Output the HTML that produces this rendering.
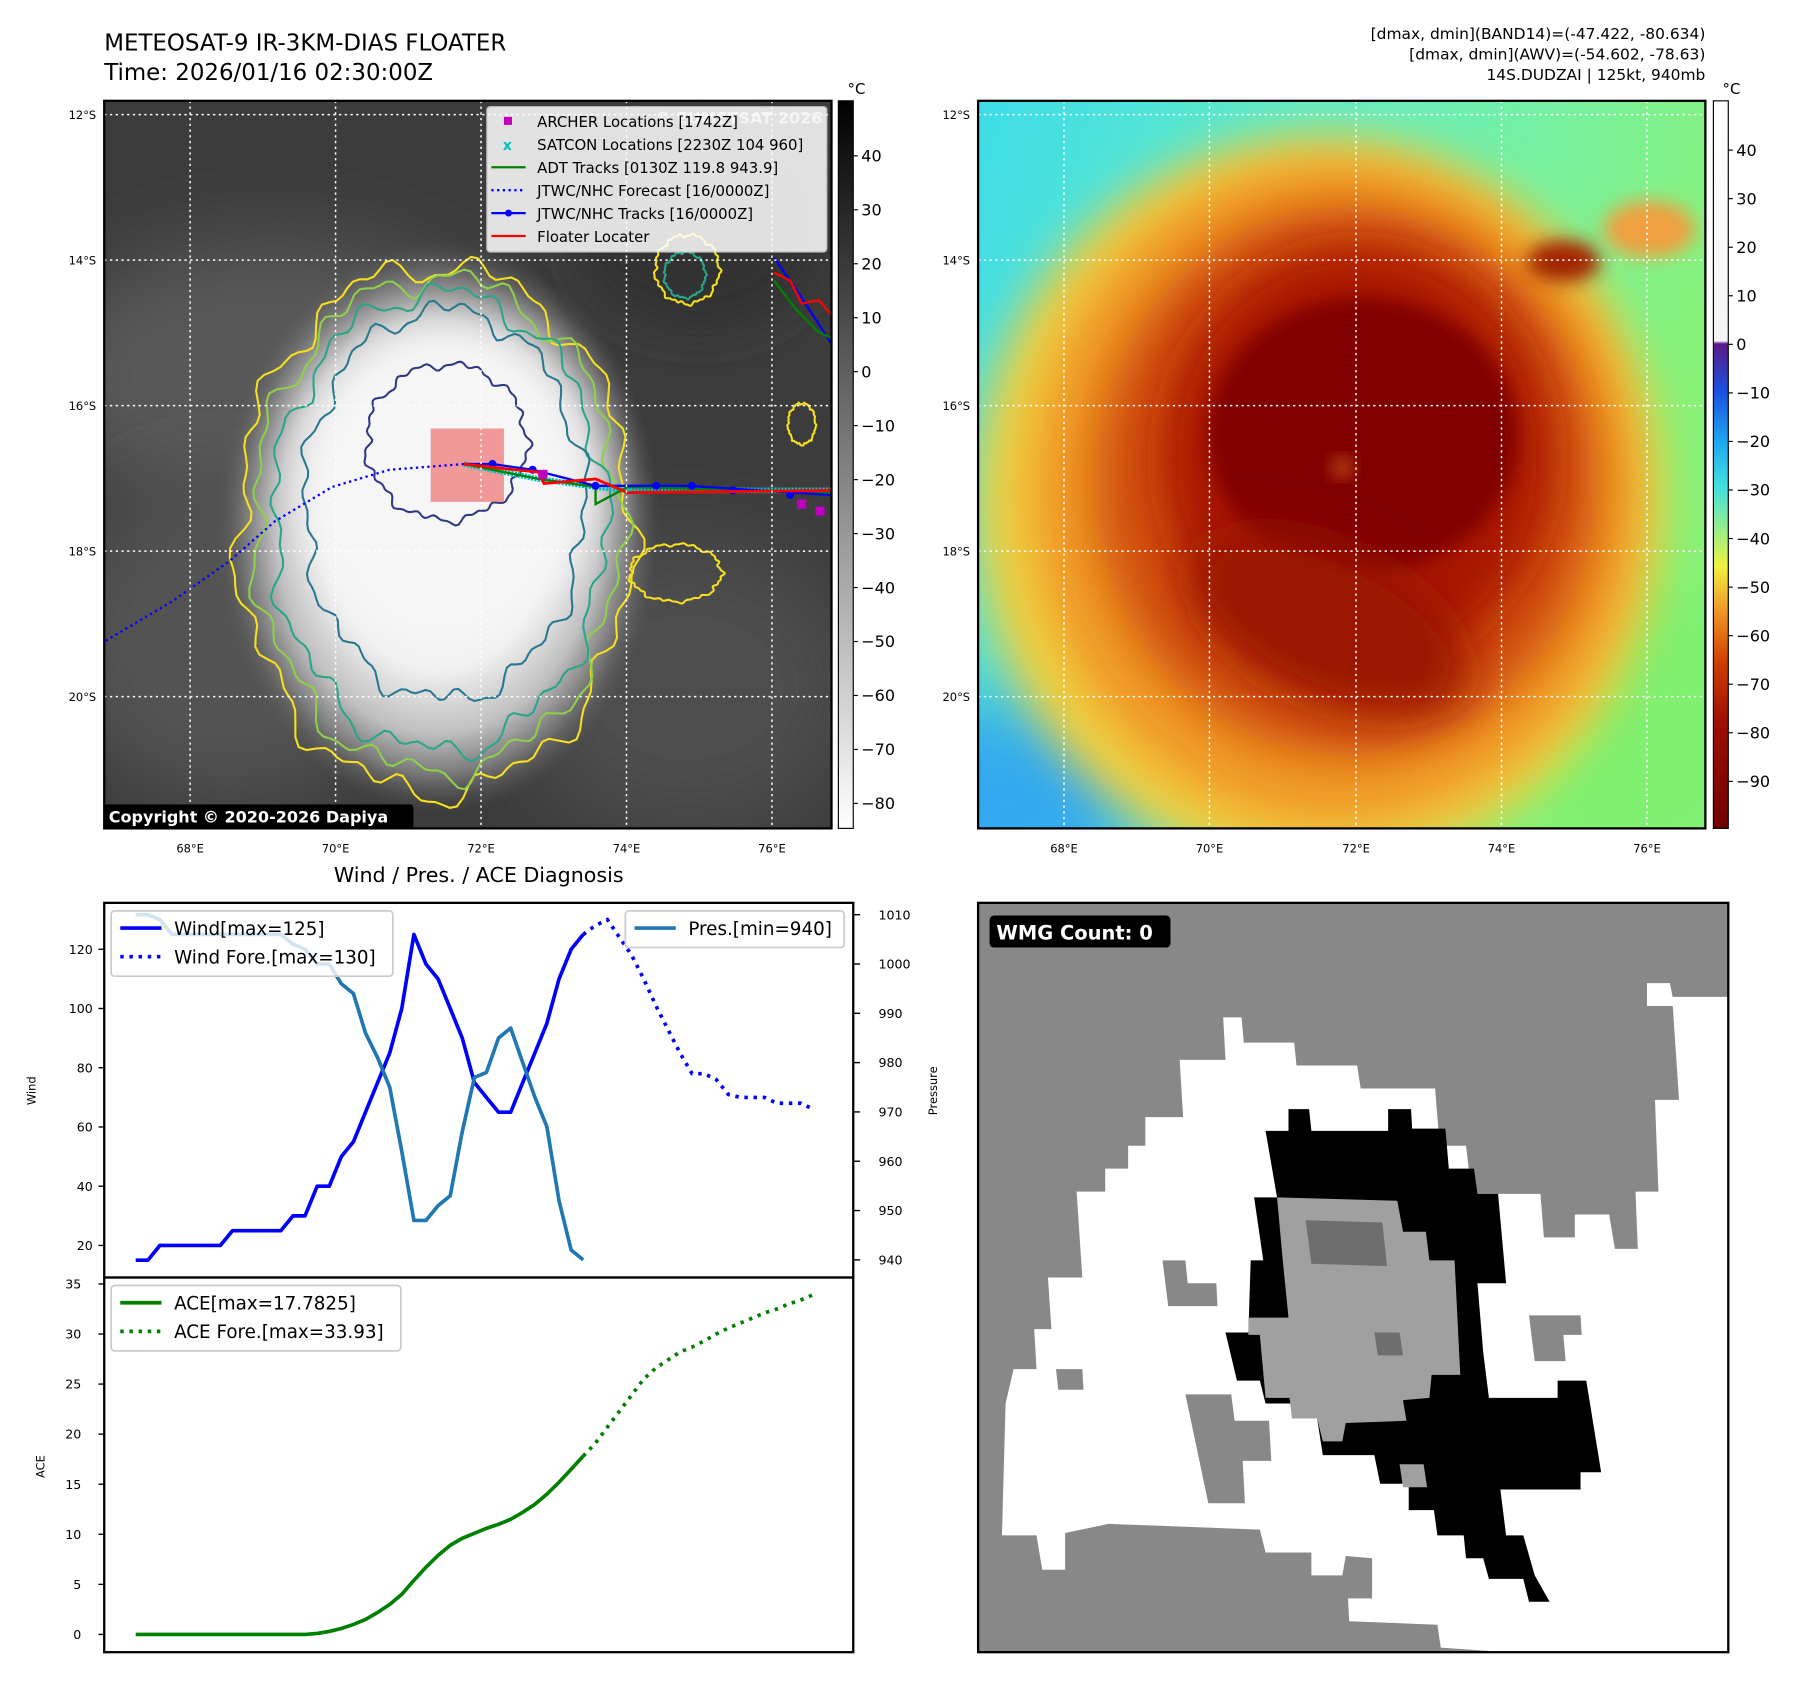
<!DOCTYPE html>
<html><head><meta charset="utf-8">
<style>
html,body{margin:0;padding:0;background:#fff;}
svg{display:block;font-family:"DejaVu Sans","Liberation Sans",sans-serif;}
</style></head>
<body>
<svg id="root" width="1797" height="1690" viewBox="0 0 1569 1475" preserveAspectRatio="none" xmlns="http://www.w3.org/2000/svg">
<defs>
  <filter id="blur8" x="-50%" y="-50%" width="200%" height="200%"><feGaussianBlur stdDeviation="8"/></filter>
  <filter id="blur20" x="-50%" y="-50%" width="200%" height="200%"><feGaussianBlur stdDeviation="20"/></filter>
  <filter id="blur35" x="-50%" y="-50%" width="200%" height="200%"><feGaussianBlur stdDeviation="35"/></filter>
  <clipPath id="clipL"><rect x="91" y="88" width="635" height="635"/></clipPath>
  <clipPath id="clipR"><rect x="854" y="88" width="635" height="635"/></clipPath>
  <clipPath id="clipW"><rect x="854" y="788" width="655" height="654"/></clipPath>
  <radialGradient id="stormL" cx="0.5" cy="0.5" r="0.5">
    <stop offset="0" stop-color="#ffffff"/>
    <stop offset="0.5" stop-color="#f0f0f0"/>
    <stop offset="0.72" stop-color="#c0c0c0"/>
    <stop offset="0.86" stop-color="#7a7a7a"/>
    <stop offset="1" stop-color="#555" stop-opacity="0"/>
  </radialGradient>
  <linearGradient id="bgR" x1="0" y1="0" x2="1" y2="0.3">
    <stop offset="0" stop-color="#3fdce8"/>
    <stop offset="0.5" stop-color="#66eec0"/>
    <stop offset="1" stop-color="#88f27a"/>
  </linearGradient>
  <linearGradient id="cbL" x1="0" y1="0" x2="0" y2="1">
    <stop offset="0" stop-color="#000"/>
    <stop offset="1" stop-color="#fff"/>
  </linearGradient>
  <linearGradient id="cbR" x1="0" y1="0" x2="0" y2="1">
    <stop offset="0" stop-color="#ffffff"/>
    <stop offset="0.33" stop-color="#f4f4f4"/>
    <stop offset="0.334" stop-color="#5a1a8a"/>
    <stop offset="0.40" stop-color="#1a50e0"/>
    <stop offset="0.47" stop-color="#20a8f0"/>
    <stop offset="0.53" stop-color="#40e0e0"/>
    <stop offset="0.60" stop-color="#a8f07a"/>
    <stop offset="0.64" stop-color="#f0f040"/>
    <stop offset="0.70" stop-color="#f09828"/>
    <stop offset="0.77" stop-color="#d04000"/>
    <stop offset="0.85" stop-color="#a01000"/>
    <stop offset="1" stop-color="#700000"/>
  </linearGradient>
</defs>

<!-- Titles -->
<text x="91" y="44" font-size="20">METEOSAT-9 IR-3KM-DIAS FLOATER</text>
<text x="91" y="70" font-size="20">Time: 2026/01/16 02:30:00Z</text>
<g font-size="13.5" text-anchor="end">
  <text x="1489" y="34">[dmax, dmin](BAND14)=(-47.422, -80.634)</text>
  <text x="1489" y="52">[dmax, dmin](AWV)=(-54.602, -78.63)</text>
  <text x="1489" y="70">14S.DUDZAI | 125kt, 940mb</text>
</g>

<!-- LEFT MAP -->
<g id="leftMap" clip-path="url(#clipL)">
  <rect x="91" y="88" width="635" height="635" fill="#3c3c3c"/>
  <ellipse cx="240" cy="330" rx="200" ry="120" fill="#585858" filter="url(#blur35)"/>
  <ellipse cx="200" cy="560" rx="150" ry="140" fill="#525252" filter="url(#blur35)"/>
  <ellipse cx="600" cy="600" rx="150" ry="130" fill="#4e4e4e" filter="url(#blur35)"/>
  <ellipse cx="610" cy="200" rx="110" ry="90" fill="#303030" filter="url(#blur20)"/>
  <ellipse cx="382" cy="460" rx="195" ry="250" fill="url(#stormL)"/>
  <ellipse cx="390" cy="420" rx="130" ry="140" fill="#f6f6f6" filter="url(#blur20)"/>
  <g id="contours" fill="none" stroke-width="1.8"></g>
  <rect x="376" y="374" width="64" height="64" fill="#f07070" opacity="0.7"/>
  <g id="tracks"></g>
  <g stroke="#fff" stroke-width="1.3" stroke-dasharray="2,3" fill="none">
    <line x1="166" y1="88" x2="166" y2="723"/><line x1="293" y1="88" x2="293" y2="723"/>
    <line x1="420" y1="88" x2="420" y2="723"/><line x1="547" y1="88" x2="547" y2="723"/>
    <line x1="674" y1="88" x2="674" y2="723"/>
    <line x1="91" y1="100" x2="726" y2="100"/><line x1="91" y1="227" x2="726" y2="227"/>
    <line x1="91" y1="354" x2="726" y2="354"/><line x1="91" y1="481" x2="726" y2="481"/>
    <line x1="91" y1="608" x2="726" y2="608"/>
  </g>
  <text x="718" y="108" font-size="14" font-weight="bold" fill="#ddd" text-anchor="end" opacity="0.8">© EUMETSAT 2026</text>
</g>
<rect x="91" y="88" width="635" height="635" fill="none" stroke="#000" stroke-width="2"/>
<!-- legend -->
<g font-size="13">
  <rect x="425" y="93" width="297" height="127" rx="3" fill="#fff" opacity="0.85" stroke="#ccc"/>
  <rect x="440" y="102" width="7" height="7" fill="#c000c0"/>
  <text x="469" y="111">ARCHER Locations [1742Z]</text>
  <text x="443" y="131" fill="#00c0c0" font-size="12" font-weight="bold" text-anchor="middle">x</text>
  <text x="469" y="131">SATCON Locations [2230Z 104 960]</text>
  <line x1="429" y1="146" x2="459" y2="146" stroke="#008000" stroke-width="2"/>
  <text x="469" y="151">ADT Tracks [0130Z 119.8 943.9]</text>
  <line x1="429" y1="166" x2="459" y2="166" stroke="#0000ff" stroke-width="2" stroke-dasharray="2,3"/>
  <text x="469" y="171">JTWC/NHC Forecast [16/0000Z]</text>
  <line x1="429" y1="186" x2="459" y2="186" stroke="#0000ff" stroke-width="2"/><circle cx="444" cy="186" r="3" fill="#00f"/>
  <text x="469" y="191">JTWC/NHC Tracks [16/0000Z]</text>
  <line x1="429" y1="206" x2="459" y2="206" stroke="#ff0000" stroke-width="2"/>
  <text x="469" y="211">Floater Locater</text>
</g>
<rect x="91" y="702" width="270" height="21" rx="3" fill="#000"/>
<text x="95" y="718" font-size="14" font-weight="bold" fill="#fff">Copyright © 2020-2026 Dapiya</text>

<g font-size="10" text-anchor="end">
  <text x="84" y="104">12°S</text><text x="84" y="231">14°S</text><text x="84" y="358">16°S</text>
  <text x="84" y="485">18°S</text><text x="84" y="612">20°S</text>
</g>
<g font-size="10" text-anchor="middle">
  <text x="166" y="744">68°E</text><text x="293" y="744">70°E</text><text x="420" y="744">72°E</text>
  <text x="547" y="744">74°E</text><text x="674" y="744">76°E</text>
</g>
<rect x="732" y="88" width="13" height="635" fill="url(#cbL)" stroke="#000" stroke-width="1"/>
<text x="740" y="82" font-size="13">°C</text>
<g id="cbLticks" font-size="14"></g>

<!-- RIGHT MAP -->
<g clip-path="url(#clipR)">
  <rect x="854" y="88" width="635" height="635" fill="url(#bgR)"/>
  <ellipse cx="880" cy="700" rx="120" ry="90" fill="#30a8f0" filter="url(#blur35)"/>
  <ellipse cx="1420" cy="620" rx="120" ry="140" fill="#7ff070" filter="url(#blur35)"/>
  <ellipse cx="1150" cy="440" rx="300" ry="320" fill="#f0d040" filter="url(#blur20)"/>
  <ellipse cx="1165" cy="430" rx="265" ry="290" fill="#f09a28" filter="url(#blur20)"/>
  <ellipse cx="1175" cy="420" rx="220" ry="240" fill="#d05008" filter="url(#blur20)"/>
  <ellipse cx="1185" cy="400" rx="170" ry="185" fill="#a81800" filter="url(#blur20)"/>
  <ellipse cx="1190" cy="380" rx="135" ry="120" fill="#800000" filter="url(#blur8)"/>
  <ellipse cx="1160" cy="545" rx="130" ry="65" fill="#9a1400" filter="url(#blur20)" transform="rotate(25 1160 545)"/>
  <ellipse cx="1172" cy="408" rx="8" ry="7" fill="#e07020" filter="url(#blur8)"/>
  <ellipse cx="1365" cy="228" rx="32" ry="18" fill="#a02000" filter="url(#blur8)"/>
  <ellipse cx="1440" cy="200" rx="40" ry="25" fill="#f0a040" filter="url(#blur8)"/>
  <g stroke="#fff" stroke-width="1.3" stroke-dasharray="2,3" fill="none">
    <line x1="929" y1="88" x2="929" y2="723"/><line x1="1056" y1="88" x2="1056" y2="723"/>
    <line x1="1184" y1="88" x2="1184" y2="723"/><line x1="1311" y1="88" x2="1311" y2="723"/>
    <line x1="1438" y1="88" x2="1438" y2="723"/>
    <line x1="854" y1="100" x2="1489" y2="100"/><line x1="854" y1="227" x2="1489" y2="227"/>
    <line x1="854" y1="354" x2="1489" y2="354"/><line x1="854" y1="481" x2="1489" y2="481"/>
    <line x1="854" y1="608" x2="1489" y2="608"/>
  </g>
</g>
<rect x="854" y="88" width="635" height="635" fill="none" stroke="#000" stroke-width="2"/>
<g font-size="10" text-anchor="end">
  <text x="847" y="104">12°S</text><text x="847" y="231">14°S</text><text x="847" y="358">16°S</text>
  <text x="847" y="485">18°S</text><text x="847" y="612">20°S</text>
</g>
<g font-size="10" text-anchor="middle">
  <text x="929" y="744">68°E</text><text x="1056" y="744">70°E</text><text x="1184" y="744">72°E</text>
  <text x="1311" y="744">74°E</text><text x="1438" y="744">76°E</text>
</g>
<rect x="1496" y="88" width="13" height="635" fill="url(#cbR)" stroke="#000" stroke-width="1"/>
<text x="1504" y="82" font-size="13">°C</text>
<g id="cbRticks" font-size="14"></g>

<!-- CHART -->
<text x="418" y="770" font-size="18" text-anchor="middle">Wind / Pres. / ACE Diagnosis</text>
<g id="chart"></g>

<!-- WMG -->
<g clip-path="url(#clipW)">
  <rect x="854" y="788" width="655" height="654" fill="#fff"/>
  <g id="wmg"></g>
</g>
<rect x="854" y="788" width="655" height="654" fill="none" stroke="#000" stroke-width="2"/>
<rect x="864" y="799" width="158" height="28" rx="4" fill="#000"/>
<text x="870" y="820" font-size="17" font-weight="bold" fill="#fff">WMG Count: 0</text>
</svg>

<script>
// ===== chart data =====
const obsWind = [15,15,20,20,20,20,20,20,25,25,25,25,25,30,30,40,40,50,55,65,75,85,100,125,115,110,100,90,75,70,65,65,75,85,95,110,120,125];
const foreWind = [125,128,130,124,118,110,101,93,85,78,78,76,71,70,70,70,68,68,68,66];
const obsPres = [1010,1010,1009,1006,1006,1006,1006,1006,1006,1006,1006,1006,1006,1004,1003,1000,1000,996,994,986,981,975,962,948,948,951,953,966,977,978,985,987,980,973,967,952,942,940];
const obsAce = [0,0,0,0,0,0,0,0,0,0,0,0,0,0,0,0.1,0.3,0.6,1.0,1.5,2.2,3.0,4.0,5.4,6.7,7.9,8.9,9.6,10.1,10.6,11.0,11.5,12.2,13.0,14.0,15.2,16.5,17.8];
const foreAce = [17.8,19.1,20.7,22.3,23.9,25.5,26.6,27.4,28.2,28.7,29.3,30.0,30.6,31.1,31.6,32.1,32.5,33.0,33.4,33.93];
const windTicks = [20,40,60,80,100,120];
const presTicks = [940,950,960,970,980,990,1000,1010];
const aceTicks = [0,5,10,15,20,25,30,35];
const irTicks = [40,30,20,10,0,-10,-20,-30,-40,-50,-60,-70,-80];
const awvTicks = [40,30,20,10,0,-10,-20,-30,-40,-50,-60,-70,-80,-90];

const NS = "http://www.w3.org/2000/svg";
function mk(tag, attrs, parent){ const e=document.createElementNS(NS,tag); for(const k in attrs) e.setAttribute(k,attrs[k]); parent.appendChild(e); return e; }

const X0=91, X1=745, T0=788, TM=1115, B1=1442;
const xIdx = i => 118.5 + i*10.56;
const yWind = w => 1087 - (w-20)*2.585;
const yPres = p => 1099.6 - (p-940)*4.304;
const yAce = a => 1426.5 - a*8.74;
const fmtSpace = v => (v<0?'\u2212':'')+Math.abs(v);

const chart = document.getElementById('chart');
function ptsStr(arr, off, yf){ return arr.map((v,i)=>xIdx(i+off).toFixed(1)+','+yf(v).toFixed(1)).join(' '); }

let r;
r = mk('rect',{x:X0,y:T0,width:X1-X0,height:TM-T0,fill:'#fff',stroke:'#000','stroke-width':2},chart);
 
r = mk('rect',{x:X0,y:TM,width:X1-X0,height:B1-TM,fill:'#fff',stroke:'#000','stroke-width':2},chart);
 

windTicks.forEach(v=>{
  const y=yWind(v);
  const l=mk('line',{x1:X0-5,y1:y,x2:X0,y2:y,stroke:'#000','stroke-width':1.2},chart);
   
  const t=mk('text',{x:X0-10,y:y+4,'font-size':11,'text-anchor':'end'},chart); t.textContent=v;
   
});
presTicks.forEach(v=>{
  const y=yPres(v);
  const l=mk('line',{x1:X1,y1:y,x2:X1+6,y2:y,stroke:'#000','stroke-width':1.2},chart);
   
  const t=mk('text',{x:X1+22,y:y+4,'font-size':11},chart); t.textContent=v;
   
});
aceTicks.forEach(v=>{
  const y=yAce(v);
  const l=mk('line',{x1:X0-5,y1:y,x2:X0,y2:y,stroke:'#000','stroke-width':1.2},chart);
   
  const t=mk('text',{x:X0-20,y:y+4,'font-size':11,'text-anchor':'end'},chart); t.textContent=v;
   
});
let t;
t=mk('text',{x:31,y:952,'font-size':10,'text-anchor':'middle',transform:'rotate(-90 31 952)'},chart); t.textContent='Wind';
 
t=mk('text',{x:818,y:952,'font-size':10,'text-anchor':'middle',transform:'rotate(-90 818 952)'},chart); t.textContent='Pressure';
 
t=mk('text',{x:39,y:1280,'font-size':10,'text-anchor':'middle',transform:'rotate(-90 39 1280)'},chart); t.textContent='ACE';
 

let p;
p=mk('polyline',{points:ptsStr(obsWind,0,yWind),fill:'none',stroke:'#0000ff','stroke-width':3.2,'stroke-linejoin':'round'},chart);
 
p=mk('polyline',{points:ptsStr(foreWind,obsWind.length-1,yWind),fill:'none',stroke:'#0000ff','stroke-width':3.2,'stroke-dasharray':'3,5'},chart);
 
p=mk('polyline',{points:ptsStr(obsPres,0,yPres),fill:'none',stroke:'#1f77b4','stroke-width':3.2,'stroke-linejoin':'round'},chart);
 
p=mk('polyline',{points:ptsStr(obsAce,0,yAce),fill:'none',stroke:'#008000','stroke-width':3.2},chart);
 
p=mk('polyline',{points:ptsStr(foreAce,obsAce.length-1,yAce),fill:'none',stroke:'#008000','stroke-width':3.2,'stroke-dasharray':'3,5'},chart);
 

function legend(x,y,w,h,items,name){
  const g=mk('g',{},chart);
   
  mk('rect',{x:x,y:y,width:w,height:h,rx:3,fill:'#fff','fill-opacity':0.8,stroke:'#ccc','stroke-width':1.5},g);
  items.forEach((it,k)=>{
    const yy=y+15+k*25;
    const a={x1:x+8,y1:yy,x2:x+44,y2:yy,stroke:it[1],'stroke-width':3.2};
    if(it[2]) a['stroke-dasharray']='3,5';
    mk('line',a,g);
    const tt=mk('text',{x:x+55,y:yy+6,'font-size':16},g); tt.textContent=it[0];
  });
}
legend(97,795,246,57,[['Wind[max=125]','#0000ff',false],['Wind Fore.[max=130]','#0000ff',true]],'wind-legend');
legend(546,795,191,32,[['Pres.[min=940]','#1f77b4',false]],'pressure-legend');
legend(97,1122,253,57,[['ACE[max=17.7825]','#008000',false],['ACE Fore.[max=33.93]','#008000',true]],'ace-legend');

const cbL=document.getElementById('cbLticks');
irTicks.forEach(v=>{
  const y=136+(40-v)*4.71;
  mk('line',{x1:745,y1:y,x2:749,y2:y,stroke:'#000'},cbL);
  const tt=mk('text',{x:752,y:y+5},cbL); tt.textContent=fmtSpace(v);
   
});
const cbR=document.getElementById('cbRticks');
awvTicks.forEach(v=>{
  const y=131+(40-v)*4.238;
  mk('line',{x1:1509,y1:y,x2:1513,y2:y,stroke:'#000'},cbR);
  const tt=mk('text',{x:1516,y:y+5},cbR); tt.textContent=fmtSpace(v);
   
});

const cg=document.getElementById('contours');
function wobbly(cx,cy,rx,ry,col,ph){
  let d='';
  for(let k=0;k<=180;k++){
    const th=k/180*2*Math.PI;
    const f=1+0.035*Math.sin(9*th+ph)+0.025*Math.sin(17*th+2*ph)+0.02*Math.sin(31*th+ph);
    const x=cx+rx*f*Math.cos(th), y=cy+ry*f*Math.sin(th);
    d+=(k?'L':'M')+x.toFixed(1)+','+y.toFixed(1);
  }
  mk('path',{d:d+'Z',stroke:col},cg);
}
wobbly(380,462,172,230,'#f5e020',0.3);
wobbly(382,458,160,216,'#8fd04a',1.1);
wobbly(384,455,145,200,'#2aa58a',2.0);
wobbly(388,440,122,170,'#2a7890',2.7);
wobbly(390,386,70,68,'#303a80',0.8);
wobbly(600,235,28,30,'#f5e020',0.5);
wobbly(598,240,18,20,'#2aa58a',1.3);
wobbly(700,370,12,18,'#f5e020',0.2);
wobbly(590,500,40,25,'#f5e020',0.9);

const tg=document.getElementById('tracks');
mk('polyline',{points:'405,405 340,410 290,425 240,455 200,490 150,525 91,560',fill:'none',stroke:'#0000ff','stroke-width':2,'stroke-dasharray':'2,3'},tg);
mk('polyline',{points:'405,405 470,418 520,425 548,428 726,428',fill:'none',stroke:'#00c0c0','stroke-width':5,'stroke-dasharray':'2,1'},tg);
mk('polyline',{points:'405,405 470,418 520,425 520,440 548,425 726,430',fill:'none',stroke:'#008000','stroke-width':2},tg);
mk('polyline',{points:'405,405 430,405 465,410 520,424 548,424 600,424 726,432',fill:'none',stroke:'#0000ff','stroke-width':2},tg);
[[430,405],[465,410],[520,424],[573,424],[604,424],[640,428],[690,432]].forEach(c=>mk('circle',{cx:c[0],cy:c[1],r:3.5,fill:'#00f'},tg));
mk('polyline',{points:'405,405 450,410 470,412 475,422 520,418 548,430 726,428',fill:'none',stroke:'#ff0000','stroke-width':2.5},tg);
mk('polyline',{points:'676,225 700,260 726,300',fill:'none',stroke:'#0000ff','stroke-width':2},tg);
mk('polyline',{points:'676,245 695,270 715,290 726,295',fill:'none',stroke:'#008000','stroke-width':2},tg);
mk('polyline',{points:'676,238 690,245 700,265 715,262 726,275',fill:'none',stroke:'#ff0000','stroke-width':2},tg);
[[474,414],[700,440],[716,446]].forEach(c=>mk('rect',{x:c[0]-4,y:c[1]-4,width:8,height:8,fill:'#c000c0'},tg));

const wg=document.getElementById('wmg');
function poly(pts,fill,name){ const e=mk('polygon',{points:pts,fill:fill},wg);   }
poly('854,788 1509,788 1509,870 1460,870 1466,960 1445,960 1448,1040 1428,1040 1430,1090 1410,1090 1405,1060 1375,1060 1375,1080 1348,1080 1345,1042 1285,1042 1280,1000 1257,1000 1253,950 1188,950 1185,930 1132,930 1130,910 1086,910 1084,888 1068,888 1070,925 1030,925 1033,975 1000,975 1000,1000 985,1000 985,1020 965,1020 965,1040 940,1040 945,1115 915,1115 918,1160 903,1160 905,1195 885,1195 878,1225 872,1442 854,1442','#888','wmg-outer-gray');
poly('1438,858 1458,858 1462,878 1438,878','#fff','wmg-white-notch');
poly('1484,878 1509,878 1509,900 1487,900','#fff','wmg-white-notch2');
poly('872,1442 866,1340 905,1340 910,1370 930,1370 930,1338 968,1330 1100,1335 1105,1355 1145,1355 1145,1375 1172,1375 1175,1358 1198,1360 1198,1395 1177,1395 1178,1415 1255,1418 1258,1438 1315,1442','#888','wmg-bottom-gray');
poly('1035,1217 1075,1217 1078,1240 1108,1240 1110,1275 1085,1275 1087,1312 1055,1312','#888','wmg-gray-patch');
poly('1015,1100 1035,1100 1037,1120 1062,1120 1063,1140 1020,1140','#888','wmg-gray-patch2');
poly('1335,1148 1380,1148 1381,1165 1365,1165 1367,1188 1340,1188','#888','wmg-gray-patch3');
poly('922,1195 945,1195 946,1213 924,1213','#888','wmg-gray-patch4');
poly('1105,987 1125,987 1125,968 1143,968 1145,987 1212,987 1212,968 1232,968 1233,985 1262,985 1265,1020 1287,1020 1290,1042 1308,1042 1315,1120 1290,1120 1295,1180 1300,1220 1360,1220 1360,1205 1385,1205 1398,1285 1380,1285 1380,1300 1310,1300 1315,1340 1330,1340 1340,1375 1353,1398 1335,1398 1330,1378 1300,1378 1295,1360 1280,1360 1278,1340 1255,1340 1252,1318 1230,1318 1230,1295 1205,1295 1200,1270 1155,1270 1150,1238 1130,1238 1128,1225 1105,1225 1100,1205 1080,1205 1070,1163 1090,1163 1092,1100 1103,1100 1095,1045 1115,1045','#000','wmg-black-ring');
poly('1115,1045 1220,1048 1225,1075 1245,1075 1248,1100 1270,1100 1275,1200 1250,1200 1248,1220 1225,1222 1228,1240 1175,1242 1172,1258 1155,1258 1150,1238 1128,1238 1126,1220 1105,1220 1100,1165 1090,1165 1090,1150 1125,1150 1120,1100','#a0a0a0','wmg-center-gray');
poly('1140,1065 1207,1067 1211,1105 1145,1103','#6e6e6e','wmg-dark-patch');
poly('1200,1163 1222,1163 1225,1183 1203,1183','#6e6e6e','wmg-dark-patch2');
poly('1222,1278 1243,1278 1246,1298 1225,1298','#a0a0a0','wmg-light-patch');
</script>
</body></html>
